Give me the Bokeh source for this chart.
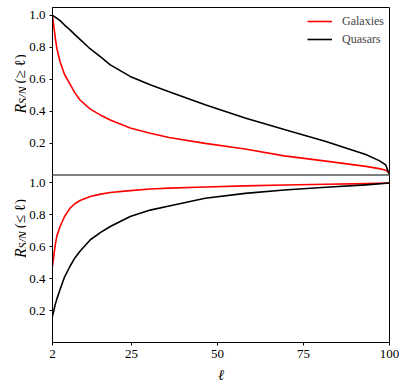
import math
from bokeh.plotting import figure
from bokeh.layouts import row
from bokeh.models import FixedTicker, CustomJSTickFormatter, Span, Legend, LegendItem
from bokeh.core.properties import value
from bokeh.embed import file_html
from bokeh.resources import INLINE

# ---- data ----
ell = [2, 2.8, 3.3, 4.2, 5.5, 7.1, 8.5, 10, 13, 16, 18.8, 24.6, 30.4, 35.9, 46.4, 58, 69.4, 81.5, 93.1, 97, 98.9, 100]
gal_ge = [1.0, 0.86, 0.79, 0.71, 0.63, 0.57, 0.515, 0.47, 0.413, 0.375, 0.345, 0.295, 0.262, 0.235, 0.198, 0.163,
          0.12, 0.087, 0.054, 0.04, 0.03, 0.01]
qso_ge = [1.0, 0.99, 0.982, 0.968, 0.94, 0.91, 0.88, 0.85, 0.79, 0.74, 0.69, 0.618, 0.566, 0.522, 0.44, 0.357,
          0.285, 0.21, 0.128, 0.09, 0.063, 0.0]

ell_le = [2, 2.8, 3.3, 4.2, 5.5, 7.1, 8.5, 10, 13, 16, 18.8, 24.6, 30.4, 35.9, 46.4, 58, 69.4, 81.5, 93.1, 100]
gal_le = [0.478, 0.613, 0.67, 0.727, 0.79, 0.842, 0.87, 0.89, 0.915, 0.93, 0.94, 0.952, 0.962, 0.968, 0.975,
          0.982, 0.987, 0.992, 0.996, 1.0]
qso_le = [0.166, 0.239, 0.275, 0.332, 0.41, 0.478, 0.53, 0.572, 0.644, 0.69, 0.727, 0.79, 0.83, 0.856, 0.904,
          0.935, 0.956, 0.973, 0.988, 1.0]

x_ticks = [2, 25, 50, 75, 100]
y_ticks = [0.2, 0.4, 0.6, 0.8, 1.0]
series_names = ["Galaxies", "Quasars"]
series_colors = ["#ff0000", "#000000"]

PANEL = 1.05  # height of each panel in data units (top panel is shifted up by this)
FONT = "'Liberation Serif', serif"

# layout constants (pixels)
LAB_W = 26
BORDER_L = 26
FRAME_W = 337
FRAME_H = 335
TOP = 7
BOTTOM = 46
RIGHT = 12
H = TOP + FRAME_H + BOTTOM

p = figure(frame_width=FRAME_W, frame_height=FRAME_H, min_border_left=BORDER_L, min_border_right=RIGHT,
           min_border_top=TOP, min_border_bottom=BOTTOM,
           x_range=(2, 100), y_range=(0, 2 * PANEL),
           output_backend="svg", toolbar_location=None)

p.xgrid.visible = False
p.ygrid.visible = False
p.outline_line_color = "black"
p.outline_line_width = 1

top_g = [v + PANEL for v in gal_ge]
top_q = [v + PANEL for v in qso_ge]
kw = dict(line_width=1.6, line_join="round")
r1 = p.line(ell, top_g, line_color=series_colors[0], **kw)
r2 = p.line(ell, top_q, line_color=series_colors[1], **kw)
p.line(ell_le, gal_le, line_color=series_colors[0], **kw)
p.line(ell_le, qso_le, line_color=series_colors[1], **kw)

p.add_layout(Span(location=PANEL, dimension="width", line_color="#7f7f7f", line_width=2))

# axes
p.xaxis.ticker = FixedTicker(ticks=x_ticks)
p.yaxis.ticker = FixedTicker(ticks=y_ticks + [t + PANEL for t in y_ticks])
p.yaxis.formatter = CustomJSTickFormatter(code="return (tick > 1.05 ? tick - 1.05 : tick).toFixed(1);")
for ax in (p.xaxis[0], p.yaxis[0]):
    ax.major_tick_in = 0
    ax.major_tick_out = 3
    ax.minor_tick_line_color = None
    ax.axis_line_color = "black"
    ax.major_tick_line_color = "black"
    ax.major_label_text_font = FONT
    ax.major_label_text_font_size = "13px"
    ax.major_label_text_color = "black"
    ax.major_label_standoff = 4

p.xaxis.axis_label = "ℓ"
p.xaxis.axis_label_text_font = FONT
p.xaxis.axis_label_text_font_style = "italic"
p.xaxis.axis_label_text_font_size = "15px"
p.xaxis.axis_label_text_color = "black"
p.xaxis.axis_label_standoff = 6

# legend
legend = Legend(items=[LegendItem(label=series_names[0], renderers=[r1]),
                       LegendItem(label=series_names[1], renderers=[r2])],
                location="top_right", margin=5, padding=7, spacing=0,
                glyph_width=25, glyph_height=18, label_height=18, label_width=41,
                label_standoff=10, border_line_color=None, background_fill_alpha=0,
                label_text_font=FONT, label_text_font_size="12px")
p.add_layout(legend)

# ---- narrow figure on the left that holds the two y-axis labels ----
ppu = FRAME_H / (2 * PANEL)  # pixels per data unit
lab = figure(width=LAB_W, height=H, x_range=(0, LAB_W),
             y_range=(-BOTTOM / ppu, 2 * PANEL + TOP / ppu),
             min_border=0, output_backend="svg", toolbar_location=None)
lab.axis.visible = False
lab.grid.visible = False
lab.outline_line_color = None

A = math.pi / 2

def ylabel(center, sym):
    lab.text(x=[19.5], y=[center - 0.2], text=["R"], angle=A,
             text_font=value(FONT), text_font_style="italic", text_font_size="16px",
             text_baseline="alphabetic", text_align="left", text_color="black")
    lab.text(x=[22.5], y=[center - 0.131], text=["S/N"], angle=A,
             text_font=value(FONT), text_font_style="italic", text_font_size="12px",
             text_baseline="alphabetic", text_align="left", text_color="black")
    lab.text(x=[19.5], y=[center + 0.017], text=["(" + sym + " ℓ)"], angle=A,
             text_font=value(FONT), text_font_size="15px",
             text_baseline="alphabetic", text_align="left", text_color="black")

ylabel(1.5 * PANEL, "≥")
ylabel(0.5 * PANEL, "≤")

layout = row(lab, p)
open("out.html", "w").write(file_html(layout, INLINE))
